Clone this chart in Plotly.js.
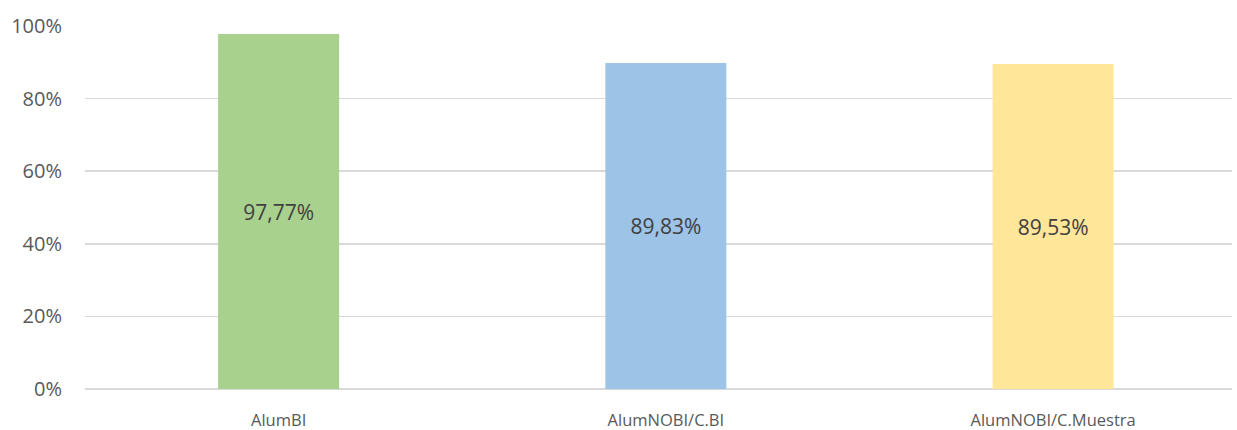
<!DOCTYPE html>
<html><head><meta charset="utf-8">
<script src="https://cdn.plot.ly/plotly-3.0.1.min.js"></script>
<style>html,body{margin:0;padding:0;background:#fff}</style>
</head><body>
<div id="chart" style="width:1237px;height:430px"></div>
<script>
const categories = ["AlumBI", "AlumNOBI/C.BI", "AlumNOBI/C.Muestra"];
const values = [0.9777, 0.8983, 0.8953];
const colors = ["#A9D18E", "#9DC3E6", "#FFE699"];
const tickVals = [0, 0.2, 0.4, 0.6, 0.8, 1.0];

const trace = {
  type: "bar",
  x: categories,
  y: values,
  marker: {color: colors, line: {width: 0}},
  width: 0.3125,
  texttemplate: "%{y:.2%}",
  textposition: "inside",
  insidetextanchor: "middle",
  textangle: 0,
  constraintext: "none",
  textfont: {family: "Open Sans, sans-serif", size: 21, color: "#404040"},
  hoverinfo: "none"
};

const layout = {
  width: 1237, height: 430,
  margin: {l: 85, r: 5, t: 26, b: 41},
  separators: ",.",
  paper_bgcolor: "#fff", plot_bgcolor: "#fff",
  showlegend: false,
  font: {family: "Open Sans, sans-serif", color: "#595959", size: 17},
  xaxis: {
    range: [-0.5, 2.462],
    showgrid: false, zeroline: false, showline: false, ticks: "",
    ticklabelstandoff: 19,
    tickfont: {size: 16.5, color: "#595959"}
  },
  yaxis: {
    range: [0, 1.0], tickvals: tickVals, tickformat: ".0%",
    showgrid: true, gridcolor: "#D9D9D9", gridwidth: 1.5,
    zeroline: true, zerolinecolor: "#D9D9D9", zerolinewidth: 1.5,
    showline: false, ticks: "", ticklen: 0,
    ticklabelstandoff: 22,
    tickfont: {size: 20, color: "#595959"}
  }
};

Plotly.newPlot("chart", [trace], layout, {displayModeBar: false, staticPlot: true});
</script>
</body></html>
